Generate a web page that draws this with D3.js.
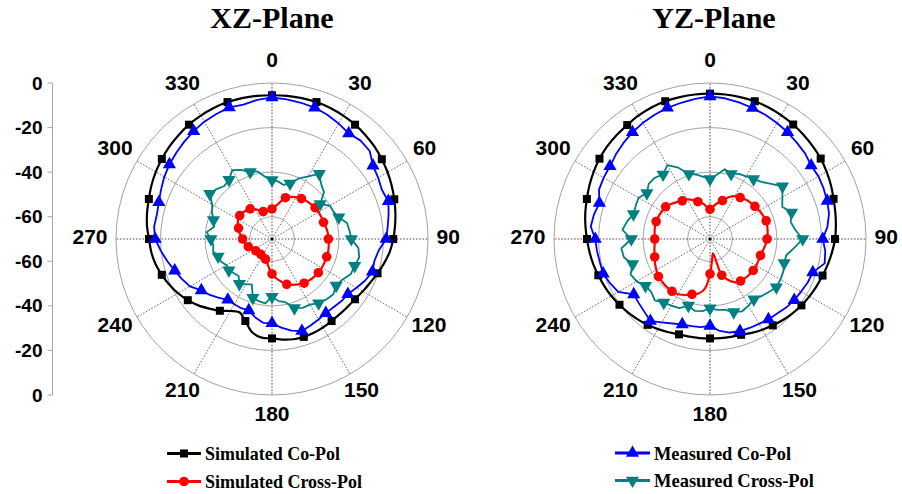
<!DOCTYPE html>
<html><head><meta charset="utf-8">
<script src="https://cdn.jsdelivr.net/npm/d3@7"></script>
<style>body{margin:0;background:#fff}svg{display:block}</style>
</head><body><svg id="chart" width="902" height="494"></svg>
<script>
// ---------------- data ----------------
const sampleAngles = d3.range(0, 360, 6);           // degrees, 6° sampling
const angleTicks = [0,30,60,90,120,150,180,210,240,270,300,330];
const angleTickLabels = ["0","30","60","90","120","150","180","210","240","270","300","330"];
const ringValues = [-60,-40,-20,0];
const axisTickValuesTop = [0,-20,-40,-60];
const axisTickValuesBottom = [-60,-40,-20,0];
const axisTickLabelsTop = ["0","-20","-40","-60"];
const axisTickLabelsBottom = ["-60","-40","-20","0"];
const seriesNames = ["Simulated Co-Pol","Simulated Cross-Pol","Measured Co-Pol","Measured Cross-Pol"];
const planeTitles = ["XZ-Plane","YZ-Plane"];

// XZ-plane
const xzSimCo = [-5.5,-5.4,-5.4,-5.4,-5.7,-6.1,-6.6,-7.3,-8.1,-9.1,
 -10.1,-11.2,-12.3,-13.4,-14.5,-15.6,-16.8,-18.5,-20.2,-21.8,
 -23.0,-24.0,-24.4,-24.6,-24.5,-24.2,-23.9,-23.8,-24.0,-24.6,
 -25.4,-25.5,-27.2,-31.3,-34.0,-32.7,-30.2,-28.0,-25.5,-23.3,
 -21.3,-19.6,-18.0,-16.5,-15.5,-14.8,-13.6,-12.7,-11.9,-10.8,
 -9.8,-8.9,-8.0,-7.3,-6.6,-6.1,-5.7,-5.4,-5.4,-5.4];
const xzSimCross = [-56.5,-55.2,-53.3,-50.5,-49.3,-48.3,-47.6,-47.0,-46.6,-46.1,
 -45.9,-45.8,-45.7,-45.2,-44.8,-44.7,-44.4,-44.2,-44.2,-44.2,
 -44.2,-44.3,-44.6,-45.0,-45.5,-46.5,-47.5,-48.6,-50.5,-52.3,
 -54.3,-57.0,-59.3,-60.5,-61.0,-61.3,-61.5,-61.4,-61.2,-61.0,
 -60.2,-59.5,-58.8,-58.0,-57.4,-56.8,-56.0,-55.0,-54.2,-53.2,
 -52.5,-52.1,-52.3,-52.8,-53.3,-54.5,-56.0,-57.1,-57.5,-57.0];
const xzMeasCo = [-6.5,-7.0,-7.5,-8.0,-9.0,-10.2,-11.4,-10.6,-11.0,-14.0,
 -15.0,-16.0,-15.1,-16.5,-17.8,-18.8,-21.8,-23.0,-22.6,-24.2,
 -26.2,-27.9,-28.2,-28.8,-28.9,-28.3,-27.5,-26.6,-28.0,-30.0,
 -32.2,-32.2,-34.0,-36.3,-36.0,-36.2,-36.3,-34.5,-32.5,-30.8,
 -27.5,-25.8,-24.1,-22.0,-19.8,-17.6,-16.8,-17.2,-16.6,-15.5,
 -14.2,-13.1,-12.2,-11.2,-10.2,-9.2,-8.6,-7.9,-8.4,-7.2];
const xzMeasCross = [-43.5,-44.0,-45.2,-43.8,-40.2,-37.6,-33.9,-37.0,-38.6,-43.3,
 -40.0,-39.8,-38.5,-35.6,-35.0,-34.4,-31.0,-30.0,-31.0,-31.3,
 -33.5,-34.4,-33.0,-33.5,-34.4,-36.0,-36.2,-37.4,-41.0,-42.0,
 -44.1,-41.0,-41.5,-42.2,-47.7,-46.5,-45.1,-47.6,-47.0,-46.1,
 -46.5,-45.0,-44.6,-43.0,-43.5,-42.6,-40.5,-43.5,-42.4,-40.5,
 -39.0,-35.5,-36.5,-38.0,-37.2,-34.3,-36.0,-38.4,-39.0,-42.0];

// YZ-plane
const yzSimCo = [-4.8,-4.8,-4.9,-5.0,-5.4,-5.9,-6.5,-7.2,-7.9,-8.6,
 -9.6,-10.6,-11.7,-12.5,-13.2,-13.9,-14.9,-15.9,-16.9,-17.7,
 -18.5,-19.3,-20.2,-21.1,-22.1,-23.0,-23.9,-24.8,-25.1,-25.3,
 -25.4,-25.3,-25.2,-25.0,-24.2,-23.3,-22.4,-21.5,-20.6,-19.8,
 -18.9,-18.1,-17.3,-16.4,-15.6,-14.8,-13.8,-12.8,-11.9,-10.8,
 -9.7,-8.7,-7.9,-7.3,-6.8,-6.0,-5.4,-5.0,-4.9,-4.8];
const yzSimCross = [-56.7,-55.2,-53.5,-51.9,-49.5,-47.8,-47.0,-46.2,-45.6,-45.1,
 -44.5,-44.0,-43.5,-43.7,-44.0,-44.4,-45.0,-45.7,-46.2,-46.2,
 -46.1,-46.0,-46.2,-46.4,-46.7,-47.6,-49.9,-52.9,-63.4,-60.8,
 -54.3,-47.5,-45.0,-43.9,-42.5,-41.4,-41.0,-41.0,-41.2,-41.4,
 -42.2,-43.0,-43.9,-44.5,-45.0,-45.2,-45.0,-44.7,-44.6,-44.8,
 -45.1,-45.4,-46.5,-47.7,-48.8,-49.5,-50.8,-52.4,-53.5,-55.5];
const yzMeasCo = [-6.0,-6.5,-7.3,-8.2,-9.0,-9.9,-10.8,-11.8,-12.6,-13.9,
 -13.8,-14.2,-14.7,-15.4,-17.0,-19.4,-18.0,-17.4,-21.5,-22.0,
 -22.8,-23.3,-24.0,-25.0,-25.4,-26.0,-26.3,-26.5,-27.1,-28.5,
 -31.0,-30.2,-30.0,-29.7,-28.5,-26.8,-24.5,-26.0,-27.0,-27.7,
 -22.5,-21.0,-19.6,-19.5,-19.0,-18.5,-16.2,-16.8,-17.8,-15.5,
 -14.9,-14.5,-13.2,-12.0,-10.8,-9.8,-9.0,-8.1,-7.5,-6.8];
const yzMeasCross = [-43.1,-41.0,-38.0,-39.3,-38.0,-37.5,-36.8,-35.5,-33.0,-29.8,
 -32.5,-34.5,-31.5,-33.0,-31.5,-28.4,-32.0,-35.0,-35.0,-34.0,
 -33.5,-33.2,-34.5,-35.5,-36.5,-35.5,-34.5,-35.5,-37.5,-38.0,
 -38.9,-37.5,-37.0,-38.6,-36.0,-35.5,-34.7,-33.0,-34.5,-34.2,
 -32.0,-31.0,-33.5,-30.5,-30.0,-34.7,-30.5,-32.0,-33.9,-33.5,
 -33.0,-35.0,-33.0,-33.0,-34.2,-31.7,-35.0,-39.3,-40.5,-42.0];

// ---------------- layout / style ----------------
const R = 156, cy = 239;
const rScale = d3.scaleLinear().domain([-70, 0]).range([0, R]);
const colors = ["#000000", "#ff0000", "#0000ff", "#008080"];
const symbols = ["square", "circle", "triUp", "triDown"];
const markerEvery = 3; // marker every 18°

const planes = [
  {cx: 272, titleX: 272, series: [xzSimCo, xzSimCross, xzMeasCo, xzMeasCross]},
  {cx: 710, titleX: 714, series: [yzSimCo, yzSimCross, yzMeasCo, yzMeasCross]}
];

const svg = d3.select("#chart");
const rad = d => d * Math.PI / 180;

function symbolPath(kind, size) {
  if (kind === "square") return d3.symbol(d3.symbolSquare, size)();
  if (kind === "circle") return d3.symbol(d3.symbolCircle, size)();
  return d3.symbol(d3.symbolTriangle, size)();
}
function drawMarker(g, kind, x, y, color) {
  const sizes = {square: 64, circle: 72, triUp: 75, triDown: 75};
  return g.append("path").attr("d", symbolPath(kind, sizes[kind]))
    .attr("fill", color)
    .attr("transform", `translate(${x},${y})` + (kind === "triDown" ? " rotate(180)" : ""));
}

planes.forEach((pl, pi) => {
  const g = svg.append("g").attr("transform", `translate(${pl.cx},${cy})`);
  g.selectAll("circle.ring").data(ringValues).join("circle")
    .attr("r", d => rScale(d)).attr("fill", "none")
    .attr("stroke", "#8a8a8a").attr("stroke-width", 0.8);
  g.selectAll("line.spoke").data(angleTicks).join("line")
    .attr("x1", 0).attr("y1", 0)
    .attr("x2", d => R * Math.sin(rad(d))).attr("y2", d => -R * Math.cos(rad(d)))
    .attr("stroke", d => d % 90 === 0 ? "#222" : "#444")
    .attr("stroke-width", 0.8).attr("stroke-dasharray", "1.6,1.6");
  g.append("circle").attr("r", 1.5).attr("fill", "#000");
  angleTicks.forEach((a, i) => {
    const s = Math.sin(rad(a)), c = Math.cos(rad(a));
    const t = g.append("text").text(angleTickLabels[i])
      .attr("font-family", "Liberation Sans, Arial, sans-serif")
      .attr("font-weight", "bold").attr("font-size", 21)
      .attr("text-anchor", "middle").attr("dominant-baseline", "central");
    const w = t.node().getComputedTextLength();
    const x = 176 * s + s * Math.max(0, (w - 23) / 2) * Math.abs(s);
    const y = -177 * c - 3;
    t.attr("x", x).attr("y", y);
  });
  [0, 1, 2, 3].forEach(si => {
    const vals = pl.series[si];
    const pts = sampleAngles.map((a, i) => [a, vals[i]]);
    const simulated = si < 2;
    const line = d3.lineRadial()
      .angle(d => rad(d[0])).radius(d => rScale(d[1]))
      .curve(simulated ? d3.curveCatmullRomClosed.alpha(0.5) : d3.curveLinearClosed);
    g.append("path").attr("d", line(pts)).attr("fill", "none")
      .attr("stroke", colors[si]).attr("stroke-width", simulated ? 2.2 : 1.8)
      .attr("stroke-linejoin", "round");
    pts.forEach((p, i) => {
      if (i % markerEvery !== 0) return;
      const rr = rScale(p[1]);
      drawMarker(g, symbols[si], rr * Math.sin(rad(p[0])), -rr * Math.cos(rad(p[0])), colors[si]);
    });
  });
  svg.append("text").text(planeTitles[pi]).attr("x", pl.titleX).attr("y", 28)
    .attr("text-anchor", "middle")
    .attr("font-family", "Liberation Serif, Times New Roman, serif")
    .attr("font-weight", "bold").attr("font-size", 30);
});

// left radial axis
const ax = svg.append("g").attr("transform", "translate(52.5,0)");
ax.append("line").attr("x1", 0).attr("x2", 0)
  .attr("y1", cy - rScale(0)).attr("y2", cy + rScale(0))
  .attr("stroke", "#a8a8a8").attr("stroke-width", 1);
const axisTicks = axisTickValuesTop.map((v, i) => ({y: cy - rScale(v), label: axisTickLabelsTop[i]}))
  .concat(axisTickValuesBottom.map((v, i) => ({y: cy + rScale(v), label: axisTickLabelsBottom[i]})));
ax.selectAll("line.tick").data(axisTicks).join("line")
  .attr("x1", -5).attr("x2", 0).attr("y1", d => d.y).attr("y2", d => d.y)
  .attr("stroke", "#a8a8a8");
ax.selectAll("text.tick").data(axisTicks).join("text")
  .attr("x", -10).attr("y", d => d.y).text(d => d.label)
  .attr("text-anchor", "end").attr("dominant-baseline", "central")
  .attr("font-family", "Liberation Sans, Arial, sans-serif")
  .attr("font-weight", "bold").attr("font-size", 19);

// legends
const legendPos = [
  {x1: 167, x2: 201, y: 453.5, tx: 205, ty: 460, w: 135},
  {x1: 167, x2: 201, y: 481.5, tx: 205, ty: 488, w: 157},
  {x1: 615, x2: 650, y: 453, tx: 654, ty: 459.5, w: 137},
  {x1: 615, x2: 650, y: 480.5, tx: 654, ty: 487, w: 160}
];
seriesNames.forEach((name, si) => {
  const lp = legendPos[si];
  const lg = svg.append("g");
  lg.append("line").attr("x1", lp.x1).attr("x2", lp.x2).attr("y1", lp.y).attr("y2", lp.y)
    .attr("stroke", colors[si]).attr("stroke-width", 3);
  drawMarker(lg, symbols[si], (lp.x1 + lp.x2) / 2, lp.y, colors[si]);
  lg.append("text").text(name).attr("x", lp.tx).attr("y", lp.ty)
    .attr("font-family", "Liberation Serif, Times New Roman, serif")
    .attr("font-weight", "bold").attr("font-size", 19)
    .attr("textLength", lp.w).attr("lengthAdjust", "spacingAndGlyphs");
});
</script></body></html>
